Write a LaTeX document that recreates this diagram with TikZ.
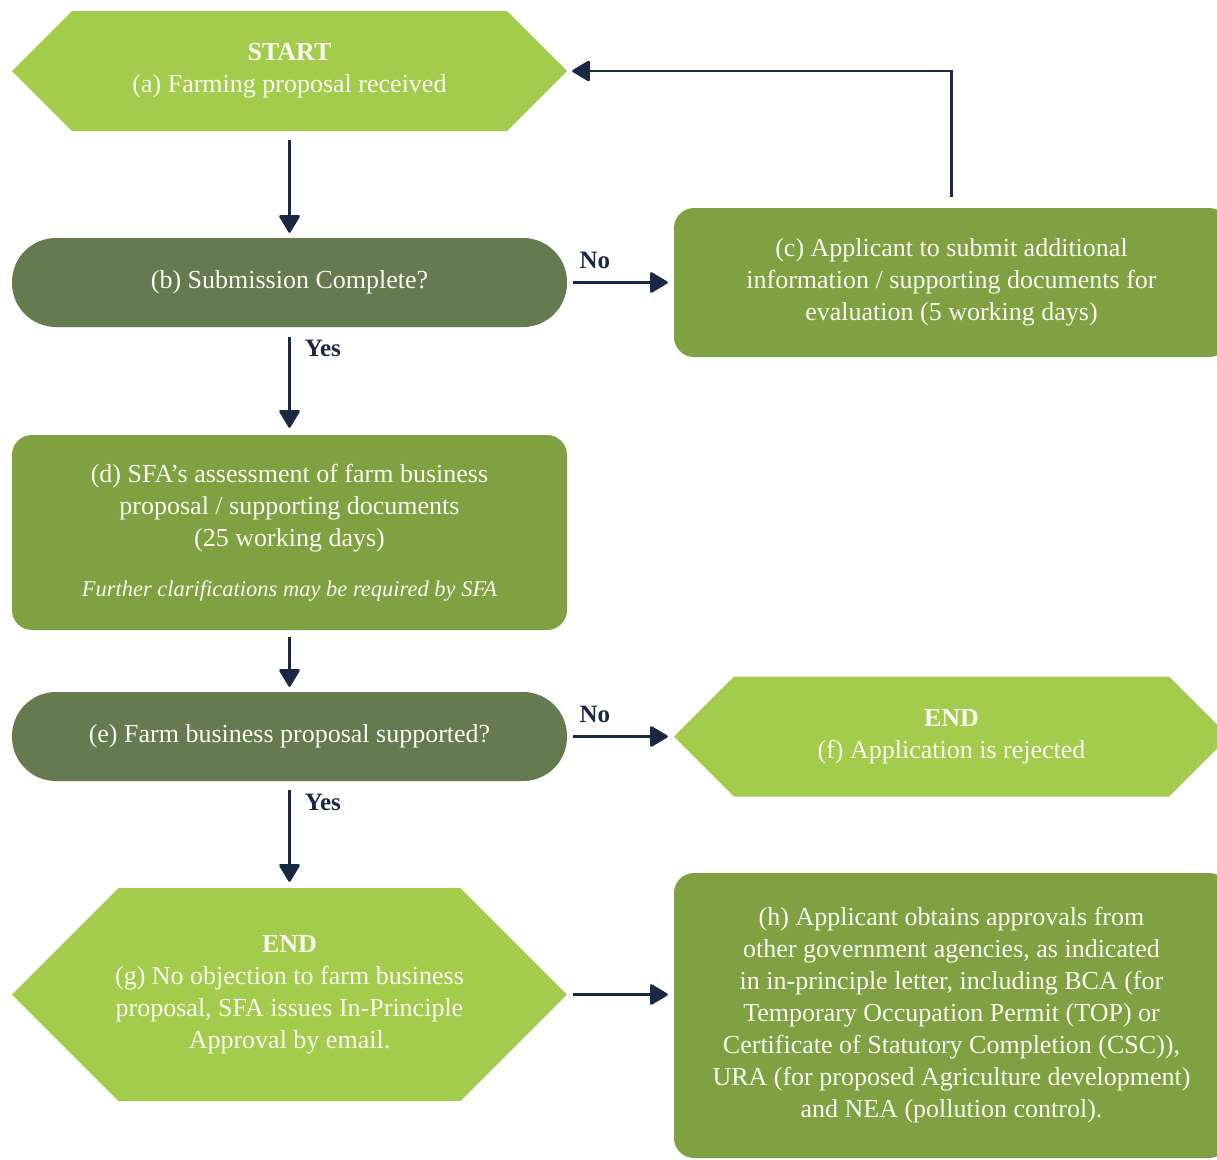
\documentclass[tikz,border=0pt]{standalone}
\usepackage{fontspec}
\setmainfont{Liberation Serif}
\usepackage{xcolor}
\usetikzlibrary{arrows.meta,positioning}
\definecolor{flowlime}{RGB}{164,204,76}
\definecolor{flowolive}{RGB}{101,122,79}
\definecolor{flowgreen}{RGB}{128,161,66}
\definecolor{flownavy}{RGB}{27,40,68}
\definecolor{flowtext}{RGB}{250,250,242}

\begin{document}
\begin{tikzpicture}[x=1pt, y=-1pt,
  every node/.style={font=\fontsize{26}{32}\selectfont, text=flowtext, align=center, inner sep=0pt},
  hexa/.style={minimum width=555pt, minimum height=#1,
    path picture={\fill[flowlime] (path picture bounding box.west)
      -- ([xshift=0.5*#1]path picture bounding box.north west)
      -- ([xshift=-0.5*#1]path picture bounding box.north east)
      -- (path picture bounding box.east)
      -- ([xshift=-0.5*#1]path picture bounding box.south east)
      -- ([xshift=0.5*#1]path picture bounding box.south west) -- cycle;}},
  pill/.style={fill=flowolive, rounded corners=44pt, minimum width=555pt, minimum height=89pt},
  card/.style={fill=flowgreen, rounded corners=20pt, minimum width=555pt, minimum height=#1},
  link/.style={draw=flownavy, line width=2.5pt, -{Triangle[length=19pt,width=22pt,round]}},
  branch/.style={font=\bfseries\fontsize{25}{30}\selectfont, text=flownavy}]
  \useasboundingbox (0,0) rectangle (1217,1159);
  \clip (0,0) rectangle (1217,1159);

  % left column
  \node[hexa=120pt] (start) at (289.5,71) {\textbf{START}\\(a) Farming proposal received};
  \node[pill] (complete) at (289.5,282.5) {(b) Submission Complete?};
  \node[card=195pt] (assess) at (289.5,532.5) {(d) SFA's assessment of farm business\\proposal / supporting documents\\(25 working days)\\[18pt]{\itshape\fontsize{22.5}{27}\selectfont Further clarifications may be required by SFA}};
  \node[pill] (supported) at (289.5,736.5) {(e) Farm business proposal supported?};
  \node[hexa=213pt] (approval) at (289.5,994.5) {\textbf{END}\\(g) No objection to farm business\\proposal, SFA issues In-Principle\\Approval by email.};

  % right column
  \node[card=149pt] (resubmit) at (951.5,282.5) {(c) Applicant to submit additional\\information / supporting documents for\\evaluation (5 working days)};
  \node[hexa=120pt] (reject) at (951.5,736.5) {\textbf{END}\\(f) Application is rejected};
  \node[card=285pt] (agencies) at (951.5,1015.5) {(h) Applicant obtains approvals from\\other government agencies, as indicated\\in in-principle letter, including BCA (for\\Temporary Occupation Permit (TOP) or\\Certificate of Statutory Completion (CSC)),\\URA (for proposed Agriculture development)\\and NEA (pollution control).};

  % connectors
  \draw[link, shorten <=9pt, shorten >=5pt] (start.south) -- (complete.north);
  \draw[link, shorten <=6pt, shorten >=6pt] (complete.east) -- node[branch, pos=0.26, above=13pt] {No} (resubmit.west);
  \draw[link, shorten <=10pt, shorten >=7pt] (complete.south) -- node[branch, pos=0.2, right=14pt] {Yes} (assess.north);
  \draw[link, shorten <=11pt, shorten >=5pt] (resubmit.north) |- (start.east);
  \draw[link, shorten <=7pt, shorten >=5pt] (assess.south) -- (supported.north);
  \draw[link, shorten <=6pt, shorten >=6pt] (supported.east) -- node[branch, pos=0.26, above=13pt] {No} (reject.west);
  \draw[link, shorten <=9pt, shorten >=6pt] (supported.south) -- node[branch, pos=0.2, right=14pt] {Yes} (approval.north);
  \draw[link, shorten <=6pt, shorten >=6pt] (approval.east) -- (approval.east -| agencies.west);
\end{tikzpicture}
\end{document}
